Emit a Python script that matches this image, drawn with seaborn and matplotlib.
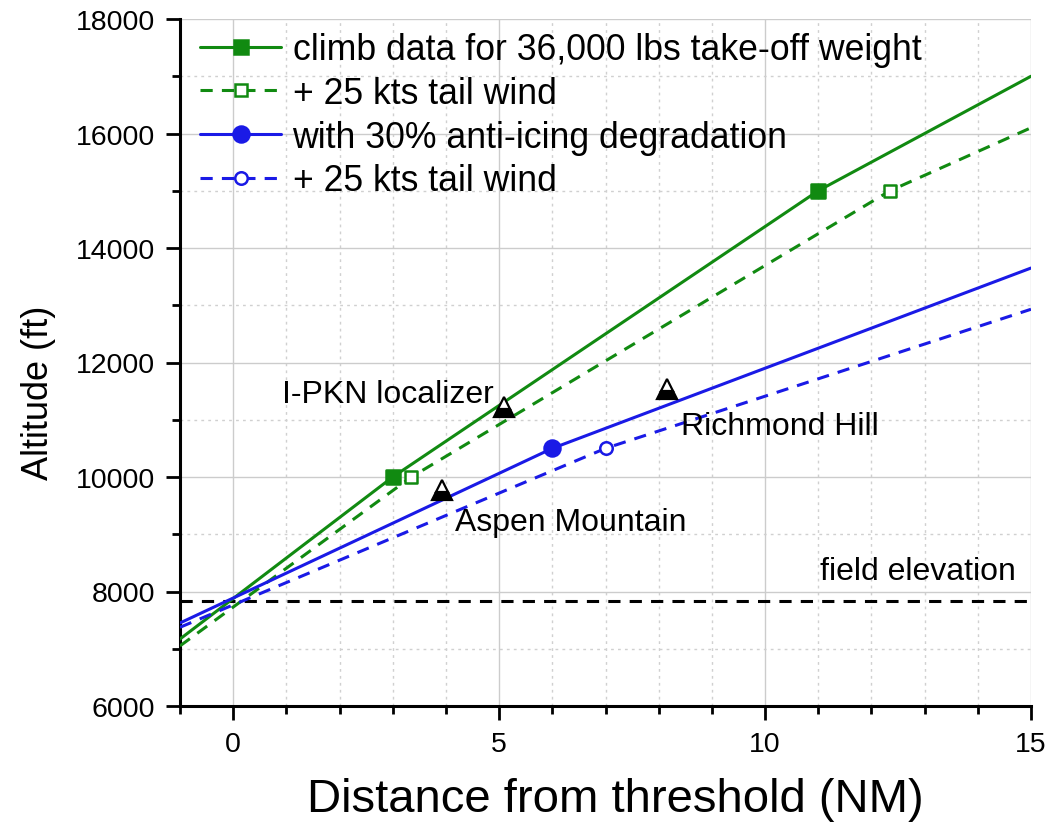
import matplotlib
matplotlib.use("Agg")
import matplotlib.pyplot as plt
from matplotlib.lines import Line2D
from matplotlib.ticker import MultipleLocator
import seaborn as sns
import pandas as pd

# Climb profiles: distance from threshold (NM) vs altitude (ft)
climb_x = [-1.0, 3.0, 11.0, 15.0]
climb_y = [7170, 10000, 15000, 17000]
climb_tw_x = [-1.0, 3.35, 12.35, 15.0]
climb_tw_y = [7050, 10000, 15000, 16100]
icing_x = [-1.0, 6.0, 15.0]
icing_y = [7450, 10500, 13650]
icing_tw_x = [-1.0, 7.0, 15.0]
icing_tw_y = [7375, 10500, 12930]

# Which points of each profile carry a marker
climb_marked = [1, 2]
climb_tw_marked = [1, 2]
icing_marked = [1]
icing_tw_marked = [1]

field_elevation = 7830

obstacle_names = ["Aspen Mountain", "I-PKN localizer", "Richmond Hill"]
obstacle_x = [3.92, 5.09, 8.16]
obstacle_y = [9780, 11220, 11540]

labels = [
    "climb data for 36,000 lbs take-off weight",
    "+ 25 kts tail wind",
    "with 30% anti-icing degradation",
    "+ 25 kts tail wind",
]

GREEN = "#118a11"
BLUE = "#1a1ae6"
LW = 2.2
DASH = (0, (4.0, 3.0))

sns.set_theme(style="white")
plt.rcParams["font.family"] = ["Liberation Sans", "DejaVu Sans"]
plt.rcParams.update({"text.color": "black", "axes.labelcolor": "black",
                     "xtick.color": "black", "ytick.color": "black"})

fig = plt.figure(figsize=(10.49, 8.29), dpi=100)
ax = fig.add_axes([180 / 1049, 122 / 829, 851 / 1049, 687 / 829])

series = [
    (climb_x, climb_y, climb_marked, GREEN, "-", "s", GREEN, 10),
    (climb_tw_x, climb_tw_y, climb_tw_marked, GREEN, DASH, "s", "white", 8),
    (icing_x, icing_y, icing_marked, BLUE, "-", "o", BLUE, 11.5),
    (icing_tw_x, icing_tw_y, icing_tw_marked, BLUE, DASH, "o", "white", 9),
]

handles = []
for (xs, ys, marked, color, ls, mk, face, ms), lab in zip(series, labels):
    df = pd.DataFrame({"x": xs, "y": ys})
    sns.lineplot(data=df, x="x", y="y", ax=ax, color=color, linestyle=ls,
                 linewidth=LW, sort=False, zorder=3)
    sns.scatterplot(data=df.iloc[marked], x="x", y="y", ax=ax, marker=mk,
                    s=ms ** 2, color=face, edgecolor=color, linewidth=1.8,
                    zorder=4)
    handles.append(Line2D([], [], color=color, linestyle=ls, linewidth=LW,
                          marker=mk, markersize=ms, markerfacecolor=face,
                          markeredgecolor=color, markeredgewidth=1.8))

# Field elevation reference
ax.axhline(field_elevation, color="black", linestyle=DASH,
           linewidth=LW, zorder=2)
ax.text(11.03, 8360, "field elevation", fontsize=23, ha="left", va="center")

# Terrain / obstacle markers
ax.plot(obstacle_x, obstacle_y, linestyle="none", marker="^", markersize=14,
        fillstyle="bottom", markerfacecolor="black",
        markerfacecoloralt="white", markeredgecolor="black",
        markeredgewidth=1.6, zorder=5)
ax.text(4.89, 11450, obstacle_names[1], fontsize=23, ha="right", va="center")
ax.text(4.17, 9214, obstacle_names[0], fontsize=23, ha="left", va="center")
ax.text(8.42, 10891, obstacle_names[2], fontsize=23, ha="left", va="center")

ax.set_xlim(-1, 15)
ax.set_ylim(6000, 18000)
ax.xaxis.set_major_locator(MultipleLocator(5))
ax.xaxis.set_minor_locator(MultipleLocator(1))
ax.yaxis.set_major_locator(MultipleLocator(2000))
ax.yaxis.set_minor_locator(MultipleLocator(1000))

ax.grid(True, which="major", color="#cccccc", linewidth=1.0, linestyle="-")
ax.grid(True, which="minor", color="#d0d0d0", linewidth=1.0, linestyle=(0, (2, 3)))
ax.set_axisbelow(True)

for side in ("top", "right"):
    ax.spines[side].set_visible(False)
for side in ("left", "bottom"):
    ax.spines[side].set_color("black")
    ax.spines[side].set_linewidth(2.2)

ax.tick_params(which="major", direction="out", length=10, width=2.0,
               color="black", labelsize=20.5, pad=8, bottom=True, left=True)
ax.tick_params(which="minor", direction="out", length=6, width=2.0,
               color="black", bottom=True, left=True)

ax.set_xlabel("Distance from threshold (NM)", fontsize=34)
ax.set_ylabel("Altitude (ft)", fontsize=26)
ax.xaxis.set_label_coords(0.512, -0.104)
ax.yaxis.set_label_coords(-0.146, 0.458)

ax.legend(handles, labels, loc="upper left", bbox_to_anchor=(0.024, 0.981),
          frameon=False, fontsize=25.7, handlelength=2.25, handletextpad=0.33,
          labelspacing=0.245, borderaxespad=0, borderpad=0)

fig.savefig("out.png", dpi=100)
